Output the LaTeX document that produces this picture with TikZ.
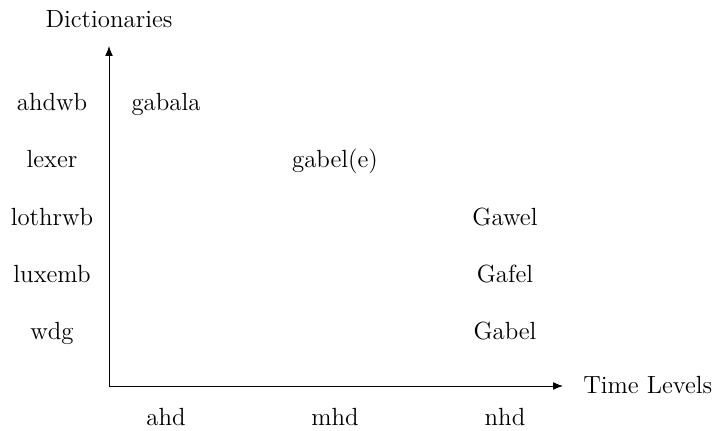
\documentclass[tikz,border=0pt]{standalone}
\usetikzlibrary{arrows.meta}
\begin{document}
\begin{tikzpicture}[x=0.5556pt,y=-0.5556pt,
  axis/.style={-{Latex[length=5.5pt,width=4.3pt]}, line width=0.5pt},
  lbl/.style={inner sep=0pt, anchor=base, font=\fontsize{13.8}{16.5}\selectfont}]
\useasboundingbox (0,0) rectangle (714,430);
\coordinate (o) at (109,386);
\coordinate (ytop) at (109,46);
\coordinate (xend) at (563,386);
\draw[axis] (o) -- (ytop);
\draw[axis] (o) -- (xend);
\node[lbl] (ylab) at (109,27) {Dictionaries};
\node[lbl, anchor=base west] (xlab) at (583,393) {Time Levels};
\node[lbl] (d1) at (52,110) {ahdwb};
\node[lbl] (d2) at (52,167) {lexer};
\node[lbl] (d3) at (52,225) {lothrwb};
\node[lbl] (d4) at (52,282) {luxemb};
\node[lbl] (d5) at (52,339) {wdg};
\node[lbl] (t1) at (166,425) {ahd};
\node[lbl] (t2) at (335,425) {mhd};
\node[lbl] (t3) at (505,425) {nhd};
\node[lbl] (w1) at (166,110) {gabala};
\node[lbl] (w2) at (335,167) {gabel(e)};
\node[lbl] (w3) at (505,225) {Gawel};
\node[lbl] (w4) at (505,282) {Gafel};
\node[lbl] (w5) at (505,339) {Gabel};
\end{tikzpicture}
\end{document}
